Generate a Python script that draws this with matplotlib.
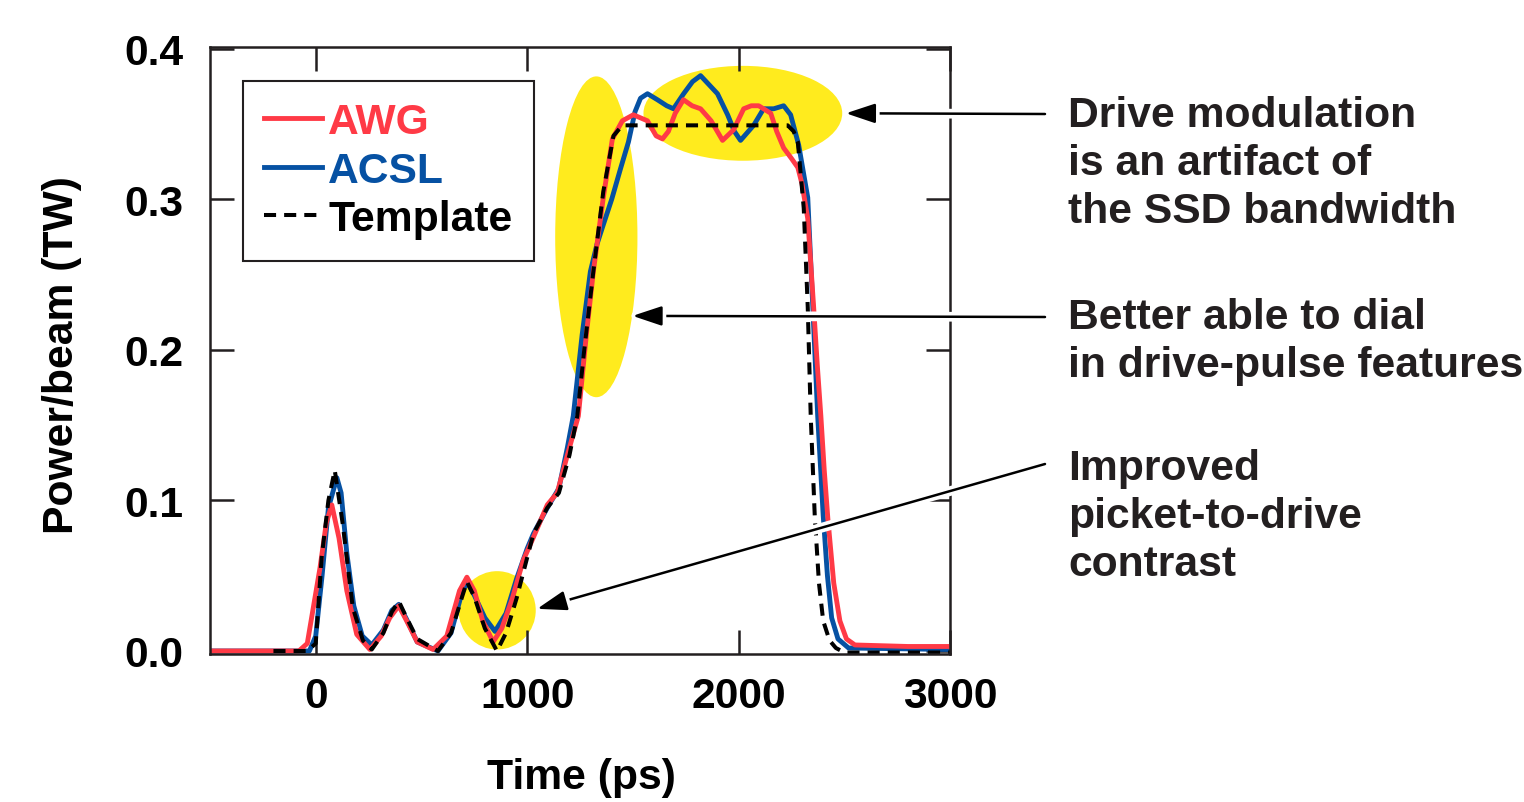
import matplotlib
matplotlib.use("Agg")
import matplotlib.pyplot as plt
from matplotlib.patches import Ellipse
import matplotlib.patheffects as pe

plt.rcParams["font.family"] = ["Liberation Sans", "DejaVu Sans"]
plt.rcParams["font.weight"] = "bold"

# --- data (time in ps, power in TW per beam) ---
t_tpl = [-200, -40, 0, 28, 60, 90, 128, 175, 223, 265, 320, 360, 393, 430, 480, 578,
         640, 690, 715, 750, 800, 857, 900, 950, 1000, 1030, 1095, 1150, 1200, 1237,
         1270, 1313, 1360, 1408, 1450, 1500, 2232, 2260, 2280, 2308, 2327, 2341, 2360,
         2380, 2400, 2430, 2460, 2500, 3000]
p_tpl = [0.0, 0.0, 0.005, 0.062, 0.10, 0.120, 0.084, 0.029, 0.007, 0.001, 0.012, 0.026,
         0.033, 0.022, 0.008, 0.0, 0.012, 0.035, 0.046, 0.036, 0.015, 0.0, 0.012, 0.035,
         0.062, 0.078, 0.095, 0.105, 0.130, 0.156, 0.200, 0.252, 0.305, 0.342, 0.349,
         0.349, 0.349, 0.345, 0.338, 0.294, 0.228, 0.156, 0.090, 0.045, 0.020, 0.007,
         0.002, -0.001, -0.001]

t_awg = [-500, -80, -40, -10, 20, 50, 76, 110, 147, 194, 256, 310, 350, 393, 430, 480,
         555, 620, 680, 715, 750, 790, 839, 880, 930, 981, 1028, 1095, 1142, 1190, 1242,
         1280, 1313, 1360, 1403, 1450, 1502, 1569, 1610, 1640, 1668, 1700, 1739, 1780,
         1820, 1870, 1924, 1976, 2024, 2060, 2095, 2152, 2180, 2213, 2250, 2280, 2300,
         2327, 2355, 2372, 2389, 2405, 2422, 2450, 2479, 2510, 2550, 2800, 3000]
p_awg = [0.0, 0.0, 0.005, 0.030, 0.055, 0.085, 0.097, 0.075, 0.040, 0.011, 0.001, 0.010,
         0.022, 0.030, 0.020, 0.006, 0.001, 0.010, 0.040, 0.049, 0.040, 0.020, 0.006,
         0.015, 0.035, 0.060, 0.075, 0.097, 0.105, 0.130, 0.156, 0.210, 0.252, 0.301,
         0.340, 0.352, 0.356, 0.352, 0.342, 0.340, 0.345, 0.357, 0.366, 0.362, 0.360,
         0.352, 0.339, 0.346, 0.360, 0.362, 0.362, 0.357, 0.345, 0.334, 0.327, 0.321,
         0.310, 0.287, 0.228, 0.190, 0.156, 0.120, 0.088, 0.045, 0.020, 0.008, 0.004,
         0.003, 0.003]

t_acsl = [-500, -30, 0, 30, 60, 100, 120, 147, 180, 220, 265, 320, 360, 393, 430, 480,
          578, 640, 690, 715, 750, 800, 848, 900, 950, 1000, 1030, 1095, 1150, 1190,
          1218, 1260, 1299, 1330, 1360, 1400, 1441, 1479, 1510, 1536, 1569, 1616, 1660,
          1692, 1740, 1782, 1820, 1860, 1900, 1948, 1980, 2009, 2040, 2071, 2118, 2166,
          2213, 2246, 2284, 2327, 2351, 2374, 2400, 2420, 2440, 2470, 2520, 3000]
p_acsl = [0.0, 0.0, 0.010, 0.050, 0.095, 0.115, 0.105, 0.065, 0.030, 0.010, 0.004, 0.014,
          0.027, 0.031, 0.021, 0.006, 0.0, 0.012, 0.038, 0.046, 0.037, 0.022, 0.013,
          0.025, 0.048, 0.068, 0.078, 0.095, 0.108, 0.135, 0.156, 0.210, 0.252, 0.270,
          0.283, 0.300, 0.320, 0.338, 0.358, 0.367, 0.370, 0.366, 0.362, 0.360, 0.370,
          0.378, 0.382, 0.376, 0.370, 0.356, 0.345, 0.339, 0.344, 0.349, 0.360, 0.360,
          0.362, 0.356, 0.336, 0.301, 0.228, 0.156, 0.090, 0.050, 0.022, 0.008, 0.002,
          0.001]

# highlighted regions: (center t, center P, width t, height P)
highlights = [(2020, 0.357, 940, 0.063), (1327, 0.275, 389, 0.213), (858, 0.027, 365, 0.052)]

notes = ["Drive modulation\nis an artifact of\nthe SSD bandwidth",
         "Better able to dial\nin drive-pulse features",
         "Improved\npicket-to-drive\ncontrast"]
note_tips = [(2507, 0.357), (1498, 0.2225), (1047, 0.028)]

RED = "#FF3A46"
BLUE = "#0651A3"
YELLOW = "#FFEB1E"
INK = "#231F20"
FS = 30.7

fig = plt.figure(figsize=(15.24, 8.03), dpi=100)
ax = fig.add_axes([0.1378, 0.1843, 0.4856, 0.7559])

for (cx, cy, w, h) in highlights:
    ax.add_patch(Ellipse((cx, cy), w, h, facecolor=YELLOW, edgecolor="none", zorder=1))

ax.plot(t_acsl, p_acsl, color=BLUE, lw=3.5, label="ACSL", zorder=2)
ax.plot(t_awg, p_awg, color=RED, lw=3.5, label="AWG", zorder=2.1)
ax.plot(t_tpl, p_tpl, color="black", lw=2.9, ls=(0, (3, 2)), label="Template", zorder=2.2)

ax.set_xlim(-500, 3000)
ax.set_ylim(-0.002, 0.401)
ax.set_xticks([0, 1000, 2000, 3000])
ax.set_yticks([0.0, 0.1, 0.2, 0.3, 0.4])
ax.set_yticklabels(["0.0", "0.1", "0.2", "0.3", "0.4"])
ax.tick_params(direction="in", length=17, width=1.8, top=True, right=True,
               labelsize=FS, color=INK)
ax.tick_params(axis="x", pad=16)
ax.tick_params(axis="y", pad=19)
for s in ax.spines.values():
    s.set_linewidth(1.8)
    s.set_color(INK)

handles, labels = ax.get_legend_handles_labels()
order = [1, 0, 2]
leg = ax.legend([handles[i] for i in order], [labels[i] for i in order],
                loc="upper left", bbox_to_anchor=(0.0446, 0.944), borderaxespad=0,
                fontsize=FS, handlelength=1.35, handletextpad=0.15, labelspacing=0.2,
                borderpad=0.5, fancybox=False, framealpha=1, edgecolor=INK)
leg.get_frame().set_linewidth(1.5)
for txt, c in zip(leg.get_texts(), [RED, BLUE, "black"]):
    txt.set_color(c)

fig.text(62 / 1524, 1 - 355 / 803, "Power/beam (TW)", rotation=90, ha="center",
         va="center", fontsize=FS)
fig.text(581 / 1524, 1 - 778 / 803, "Time (ps)", ha="center", va="center", fontsize=FS)

note_y = [1 - 164 / 803, 1 - 342 / 803, 1 - 517 / 803]
arrow_y = [1 - 115 / 803, 1 - 318 / 803, 1 - 465 / 803]
for text, ty, ay, tip in zip(notes, note_y, arrow_y, note_tips):
    fig.text(1068 / 1524, ty, text, ha="left", va="center", fontsize=FS,
             linespacing=1.25, color=INK)
    ax.annotate("", xy=tip, xycoords="data", xytext=(1045 / 1524, ay),
                textcoords="figure fraction", annotation_clip=False,
                arrowprops=dict(arrowstyle="-|>,head_length=1.8,head_width=0.6",
                                color="black", lw=1.8, shrinkA=0, shrinkB=0,
                                path_effects=[pe.withStroke(linewidth=7, foreground="white")]),
                zorder=5)

fig.savefig("out.png", dpi=100)
